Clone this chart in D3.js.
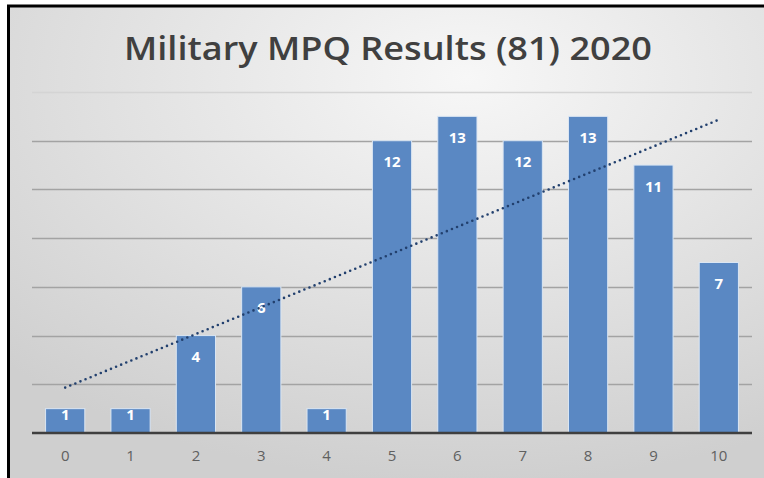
<!DOCTYPE html>
<html>
<head>
<meta charset="utf-8">
<script src="https://cdn.jsdelivr.net/npm/d3@7"></script>
<style>
  body { margin: 0; background: #fff; }
  svg { display: block; }
</style>
</head>
<body>
<div id="chart"></div>
<script>
// chart data
const scores = ["0", "1", "2", "3", "4", "5", "6", "7", "8", "9", "10"];
const counts = [1, 1, 4, 6, 1, 12, 13, 12, 13, 11, 7];
const yTicks = [0, 2, 4, 6, 8, 10, 12, 14];
const title = "Military MPQ Results (81) 2020";

const w = 764;   //width of svg
const h = 478;   //height of svg

const svg = d3.select("#chart")
    .append("svg")
    .attr("width", w)
    .attr("height", h);

//background gradient
const defs = svg.append("defs");
const grad = defs.append("radialGradient")
    .attr("id", "bg")
    .attr("cx", "60%").attr("cy", "15%").attr("r", "85%");
grad.append("stop").attr("offset", "0%").attr("stop-color", "#f7f7f7");
grad.append("stop").attr("offset", "100%").attr("stop-color", "#cfcfcf");

svg.append("rect")
    .attr("x", 8).attr("y", 6)
    .attr("width", w).attr("height", h)
    .attr("fill", "url(#bg)");

//black frame on left and top
svg.append("path")
    .attr("d", "M8.5," + h + "V6H" + w)
    .attr("fill", "none")
    .attr("stroke", "#000")
    .attr("stroke-width", 3);

//scales
const xScale = d3.scaleBand()
    .domain(scores)
    .range([32.5, 751.5])
    .paddingInner(0.4)
    .paddingOuter(0.2);

const yScale = d3.scaleLinear()
    .domain([0, 14])
    .range([433, 92]);

//gridlines
svg.append("g")
    .selectAll("line")
    .data(yTicks.filter(d => d > 0))
    .enter()
    .append("line")
    .attr("x1", 32).attr("x2", 752)
    .attr("y1", d => Math.round(yScale(d)) + 0.5)
    .attr("y2", d => Math.round(yScale(d)) + 0.5)
    .attr("stroke", d => d === 14 ? "#d4d4d4" : "#a3a3a3")
    .attr("stroke-width", 1.3);

//bars
svg.append("g")
    .selectAll("rect")
    .data(counts)
    .enter()
    .append("rect")
    .attr("x", (d, i) => xScale(scores[i]))
    .attr("y", d => yScale(d))
    .attr("width", xScale.bandwidth())
    .attr("height", d => yScale(0) - yScale(d))
    .attr("fill", "#5a88c3")
    .attr("stroke", "#dbe6f3")
    .attr("stroke-width", 1);

//baseline
svg.append("line")
    .attr("x1", 32).attr("x2", 752)
    .attr("y1", yScale(0)).attr("y2", yScale(0))
    .attr("stroke", "#3f3f3f")
    .attr("stroke-width", 2.5);

//x axis labels
const xAxis = d3.axisBottom(xScale).tickSize(0).tickPadding(17);
const xg = svg.append("g")
    .attr("transform", "translate(0," + yScale(0) + ")")
    .call(xAxis);
xg.select(".domain").remove();
xg.selectAll("text")
    .attr("font-family", "'Open Sans', sans-serif")
    .attr("font-size", 15)
    .attr("fill", "#606060");

//value labels
svg.append("g")
    .selectAll("text")
    .data(counts)
    .enter()
    .append("text")
    .attr("x", (d, i) => xScale(scores[i]) + xScale.bandwidth() / 2)
    .attr("y", d => {
        const bh = yScale(0) - yScale(d);
        return yScale(d) + Math.min(21, bh / 2 - 6) + 5.5;
    })
    .attr("text-anchor", "middle")
    .attr("font-family", "'Open Sans', sans-serif")
    .attr("font-weight", "bold")
    .attr("font-size", 15)
    .attr("fill", "#fff")
    .text(d => d);

//linear trendline
const xs = counts.map((d, i) => i);
const mx = d3.mean(xs);
const my = d3.mean(counts);
const slope = d3.sum(xs, (x, i) => (x - mx) * (counts[i] - my)) / d3.sum(xs, x => (x - mx) * (x - mx));
const intercept = my - slope * mx;
const xCenter = i => xScale(scores[i]) + xScale.bandwidth() / 2;

svg.append("line")
    .attr("x1", xCenter(0))
    .attr("y1", yScale(intercept))
    .attr("x2", xCenter(counts.length - 1))
    .attr("y2", yScale(intercept + slope * (counts.length - 1)))
    .attr("stroke", "#22406e")
    .attr("stroke-width", 2.6)
    .attr("stroke-linecap", "round")
    .attr("stroke-dasharray", "0,5.5");

//title
svg.append("text")
    .attr("x", 388)
    .attr("y", 60)
    .attr("text-anchor", "middle")
    .attr("font-family", "'Open Sans', sans-serif")
    .attr("font-weight", 600)
    .attr("font-size", 32)
    .attr("textLength", 528)
    .attr("lengthAdjust", "spacingAndGlyphs")
    .attr("fill", "#404040")
    .text(title);
</script>
</body>
</html>
